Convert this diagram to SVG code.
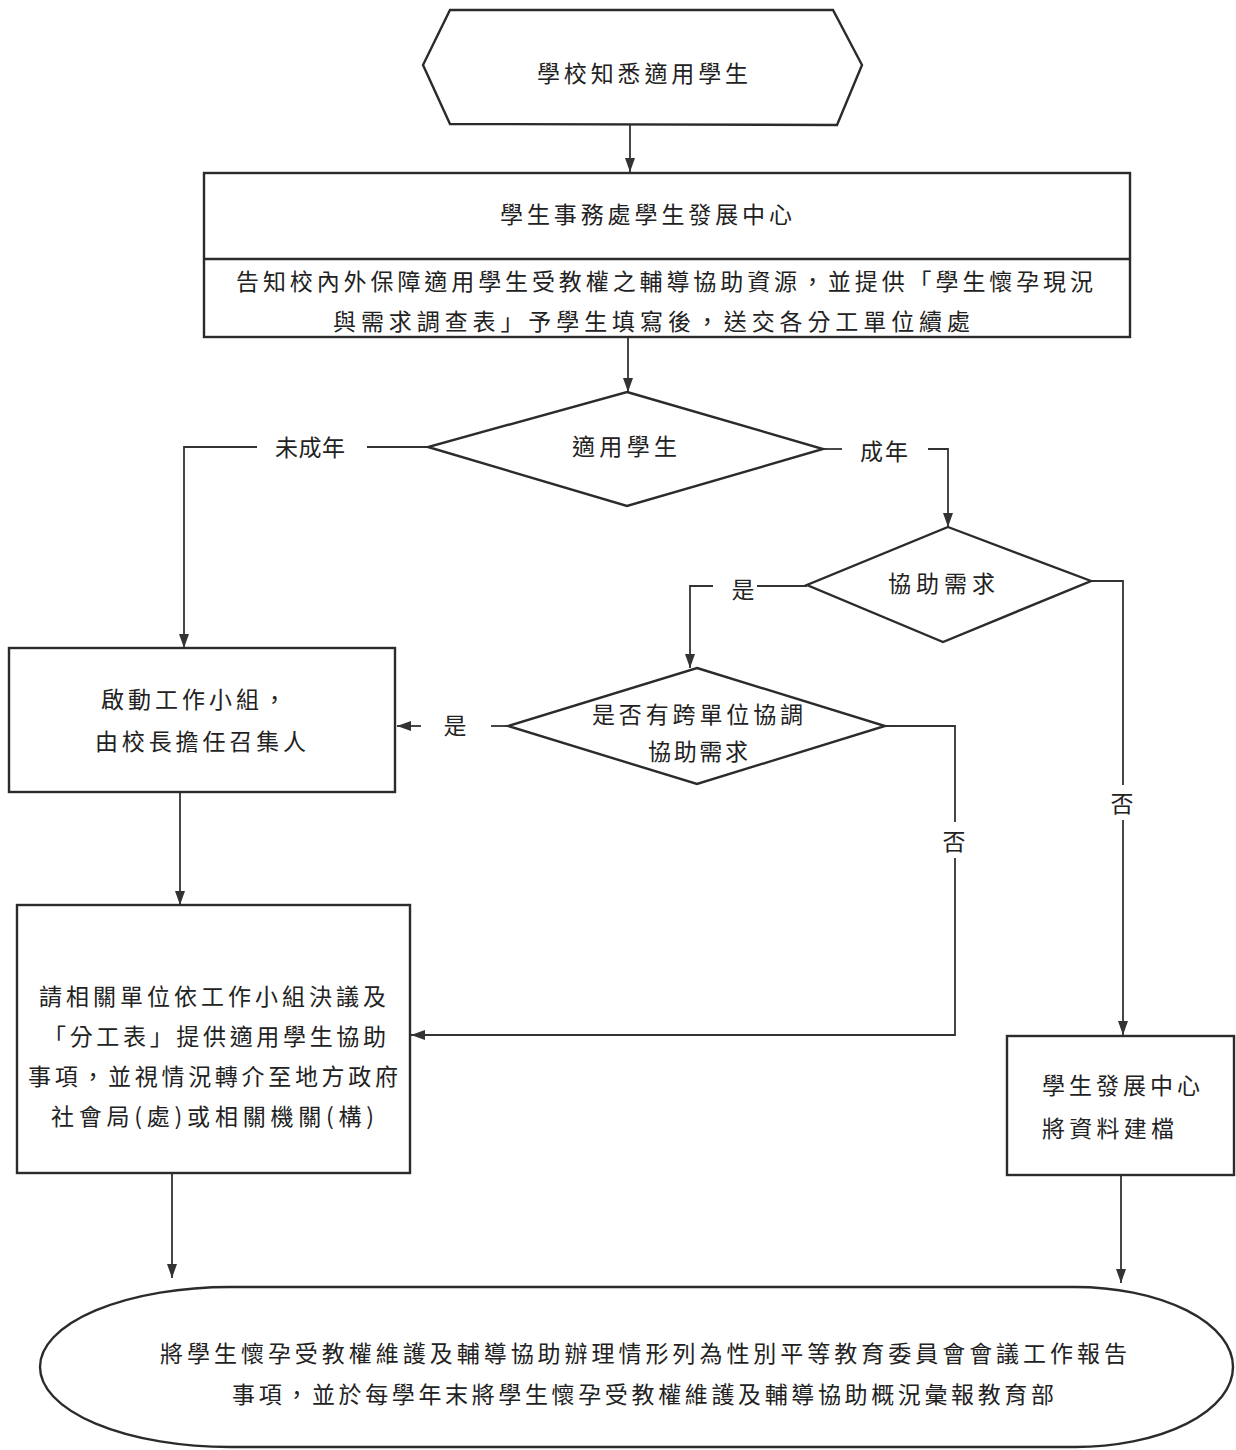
<svg xmlns="http://www.w3.org/2000/svg" width="1236" height="1450" viewBox="0 0 1236 1450">
<style>
.shape{fill:#ffffff;stroke:#2b2b2b;stroke-width:2.4}
.conn{fill:none;stroke:#333333;stroke-width:1.8}
.t{font-family:"Noto Sans CJK TC","Noto Sans CJK SC",sans-serif;font-size:23px;fill:#222222;dominant-baseline:central}
.c{text-anchor:middle}
</style>
<defs>
<marker id="ah" viewBox="0 0 14 10" refX="14" refY="5" markerWidth="14" markerHeight="10" markerUnits="userSpaceOnUse" orient="auto">
<path d="M0,0 L14,5 L0,10 Z" fill="#333333"/>
</marker>
</defs>
<rect width="1236" height="1450" fill="#ffffff"/>

<g id="connectors">
<path class="conn" d="M630,125 V172" marker-end="url(#ah)"/>
<path class="conn" d="M628,337 V392" marker-end="url(#ah)"/>
<path class="conn" d="M428,447 H367"/>
<path class="conn" d="M257,447 H184 V648" marker-end="url(#ah)"/>
<path class="conn" d="M823,449 H842"/>
<path class="conn" d="M928,449 H948 V527" marker-end="url(#ah)"/>
<path class="conn" d="M807,586 H757"/>
<path class="conn" d="M713,586 H690 V668" marker-end="url(#ah)"/>
<path class="conn" d="M1091,581 H1123 V785"/>
<path class="conn" d="M1123,820 V1035" marker-end="url(#ah)"/>
<path class="conn" d="M508,726 H491"/>
<path class="conn" d="M421,726 H397" marker-end="url(#ah)"/>
<path class="conn" d="M885,726 H955 V822"/>
<path class="conn" d="M955,858 V1035 H411" marker-end="url(#ah)"/>
<path class="conn" d="M180,792 V905" marker-end="url(#ah)"/>
<path class="conn" d="M172,1173 V1278" marker-end="url(#ah)"/>
<path class="conn" d="M1121,1175 V1283" marker-end="url(#ah)"/>
<text class="t" x="275" y="446" textLength="70" lengthAdjust="spacing">未成年</text>
<text class="t" x="860" y="450" textLength="48" lengthAdjust="spacing">成年</text>
<text class="t c" x="743" y="588">是</text>
<text class="t c" x="455" y="724">是</text>
<text class="t c" x="1122" y="802">否</text>
<text class="t c" x="954" y="840">否</text>
</g>

<g id="start">
<polygon class="shape" points="450,10 833,10 862,65 837,125 450,124 423,65"/>
<text class="t" x="537" y="72" textLength="211" lengthAdjust="spacing">學校知悉適用學生</text>
</g>

<g id="center">
<rect class="shape" x="204" y="173" width="926" height="164"/>
<line class="shape" x1="204" y1="259" x2="1130" y2="259"/>
<text class="t" x="500" y="213" textLength="292" lengthAdjust="spacing">學生事務處學生發展中心</text>
<text class="t" x="236" y="280" textLength="857" lengthAdjust="spacing">告知校內外保障適用學生受教權之輔導協助資源，並提供「學生懷孕現況</text>
<text class="t" x="333" y="320" textLength="637" lengthAdjust="spacing">與需求調查表」予學生填寫後，送交各分工單位續處</text>
</g>

<g id="decision1">
<polygon class="shape" points="627,392 823,449 627,506 428,447"/>
<text class="t" x="572" y="445" textLength="105" lengthAdjust="spacing">適用學生</text>
</g>

<g id="decision2">
<polygon class="shape" points="948,527 1091,581 943,642 807,585"/>
<text class="t" x="888" y="582" textLength="107" lengthAdjust="spacing">協助需求</text>
</g>

<g id="decision3">
<polygon class="shape" points="697,668 885,726 697,784 508,726"/>
<text class="t" x="592" y="713" textLength="211" lengthAdjust="spacing">是否有跨單位協調</text>
<text class="t" x="648" y="750" textLength="100" lengthAdjust="spacing">協助需求</text>
</g>

<g id="taskforce">
<rect class="shape" x="9" y="648" width="386" height="144"/>
<text class="t" x="101" y="698" textLength="185" lengthAdjust="spacing">啟動工作小組，</text>
<text class="t" x="95" y="740" textLength="211" lengthAdjust="spacing">由校長擔任召集人</text>
</g>

<g id="units">
<rect class="shape" x="17" y="905" width="393" height="268"/>
<text class="t" x="39" y="995" textLength="347" lengthAdjust="spacing">請相關單位依工作小組決議及</text>
<text class="t" x="43" y="1035" textLength="343" lengthAdjust="spacing">「分工表」提供適用學生協助</text>
<text class="t" x="28" y="1075" textLength="370" lengthAdjust="spacing">事項，並視情況轉介至地方政府</text>
<text class="t" x="51" y="1115" textLength="323" lengthAdjust="spacing">社會局(處)或相關機關(構)</text>
</g>

<g id="archive">
<rect class="shape" x="1007" y="1036" width="227" height="139"/>
<text class="t" x="1042" y="1084" textLength="158" lengthAdjust="spacing">學生發展中心</text>
<text class="t" x="1042" y="1127" textLength="132" lengthAdjust="spacing">將資料建檔</text>
</g>

<g id="end">
<path class="shape" d="M230,1287 H1075 A158,80 0 0 1 1075,1447 H230 A190,80 0 0 1 230,1287 Z"/>
<text class="t" x="160" y="1352" textLength="967" lengthAdjust="spacing">將學生懷孕受教權維護及輔導協助辦理情形列為性別平等教育委員會會議工作報告</text>
<text class="t" x="232" y="1393" textLength="822" lengthAdjust="spacing">事項，並於每學年末將學生懷孕受教權維護及輔導協助概況彙報教育部</text>
</g>
</svg>
